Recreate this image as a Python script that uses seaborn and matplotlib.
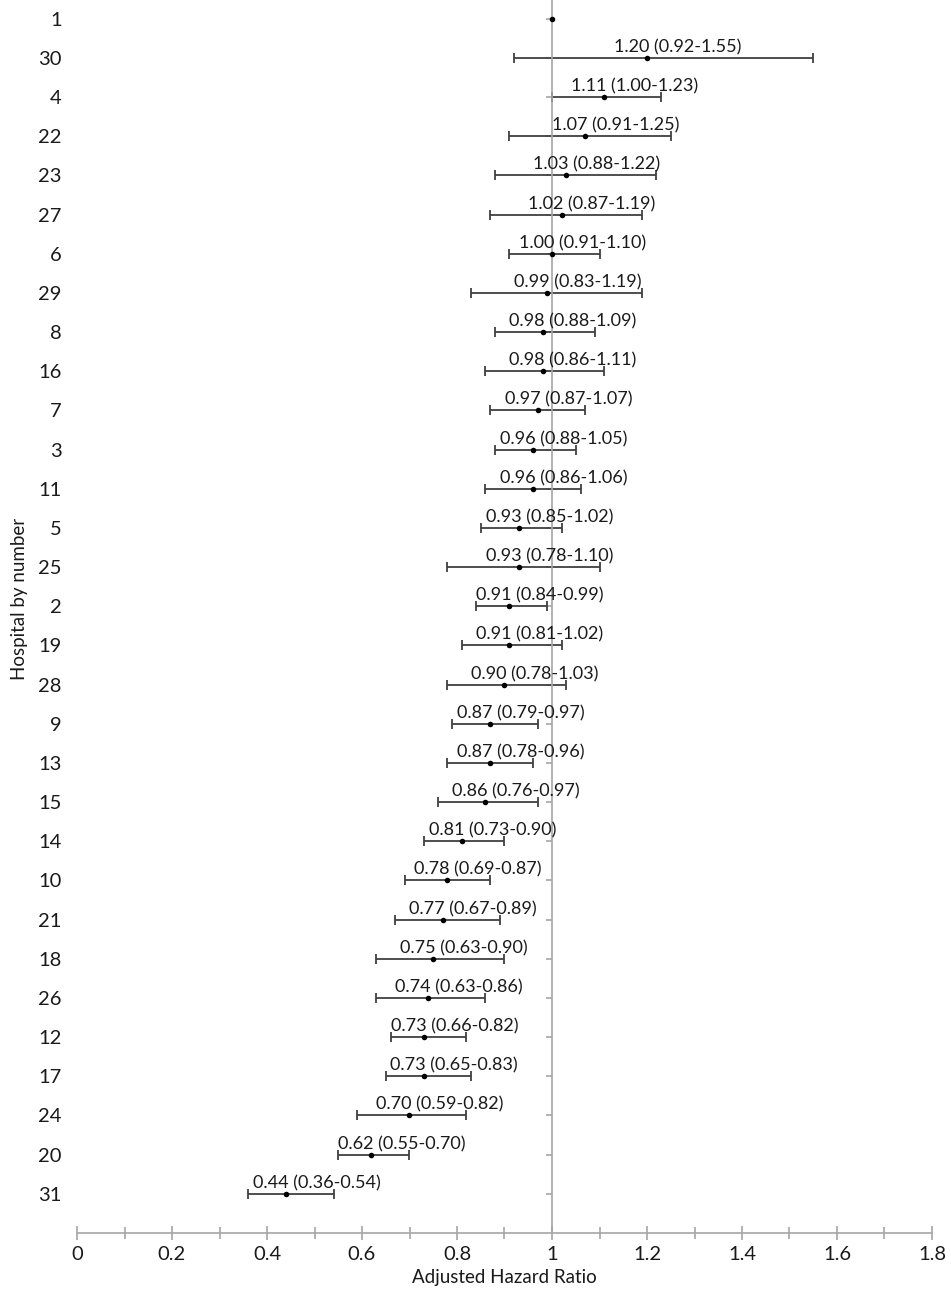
import numpy as np
import pandas as pd
import matplotlib
matplotlib.use("Agg")
import matplotlib.pyplot as plt
from matplotlib.ticker import MultipleLocator, FuncFormatter
import seaborn as sns

# Hospitals listed top to bottom, with adjusted hazard ratios and 95% CIs
hospitals = ["1", "30", "4", "22", "23", "27", "6", "29", "8", "16", "7", "3", "11",
             "5", "25", "2", "19", "28", "9", "13", "15", "14", "10", "21", "18",
             "26", "12", "17", "24", "20", "31"]
hr = [1.00, 1.20, 1.11, 1.07, 1.03, 1.02, 1.00, 0.99, 0.98, 0.98, 0.97, 0.96, 0.96,
      0.93, 0.93, 0.91, 0.91, 0.90, 0.87, 0.87, 0.86, 0.81, 0.78, 0.77, 0.75,
      0.74, 0.73, 0.73, 0.70, 0.62, 0.44]
ci_low = [np.nan, 0.92, 1.00, 0.91, 0.88, 0.87, 0.91, 0.83, 0.88, 0.86, 0.87, 0.88, 0.86,
          0.85, 0.78, 0.84, 0.81, 0.78, 0.79, 0.78, 0.76, 0.73, 0.69, 0.67, 0.63,
          0.63, 0.66, 0.65, 0.59, 0.55, 0.36]
ci_high = [np.nan, 1.55, 1.23, 1.25, 1.22, 1.19, 1.10, 1.19, 1.09, 1.11, 1.07, 1.05, 1.06,
           1.02, 1.10, 0.99, 1.02, 1.03, 0.97, 0.96, 0.97, 0.90, 0.87, 0.89, 0.90,
           0.86, 0.82, 0.83, 0.82, 0.70, 0.54]

n = len(hospitals)
df = pd.DataFrame({"hospital": hospitals, "hr": hr, "lo": ci_low, "hi": ci_high})
df["pos"] = n - np.arange(n)

sns.set_style("white")
plt.rcParams["font.family"] = ["Lato", "DejaVu Sans"]

W, H = 951, 1296
fig = plt.figure(figsize=(W / 100, H / 100), dpi=100)
left_px, right_px, bottom_px = 77, 932, 1233
ax = fig.add_axes([left_px / W, (H - bottom_px) / H, (right_px - left_px) / W, bottom_px / H])

text_col = "#1a1a1a"
axis_col = "#a6a6a6"
bar_col = "#404040"

# Confidence interval bars
ci = df.dropna(subset=["lo"])
ax.errorbar(ci["hr"], ci["pos"],
            xerr=[ci["hr"] - ci["lo"], ci["hi"] - ci["hr"]],
            fmt="none", ecolor=bar_col, elinewidth=1.3, capsize=3.6, capthick=1.3, zorder=2)

# Point estimates
sns.scatterplot(data=df, x="hr", y="pos", ax=ax, color="black", s=16,
                edgecolor="black", linewidth=0, zorder=3, legend=False)

# Value labels above each interval
for _, r in ci.iterrows():
    ax.annotate(f"{r.hr:.2f} ({r.lo:.2f}-{r.hi:.2f})", xy=(r.hr, r.pos),
                xytext=(22, 4), textcoords="offset points",
                ha="center", va="baseline", fontsize=13, color=text_col)

ax.set_xlim(0, 1.8)
ax.set_ylim(0, bottom_px / ((bottom_px - 18.7) / n))

# Vertical axis crosses at HR = 1
for s in ["top", "right"]:
    ax.spines[s].set_visible(False)
ax.spines["left"].set_position(("data", 1))
ax.spines["left"].set_color(axis_col)
ax.spines["left"].set_linewidth(1.2)
ax.spines["bottom"].set_color(axis_col)
ax.spines["bottom"].set_linewidth(1.2)

ax.set_yticks(df["pos"])
ax.tick_params(axis="y", which="both", left=True, length=4, width=1.2,
               color=axis_col, labelleft=False)

# Hospital labels on the far left
sec = ax.secondary_yaxis(0)
sec.set_yticks(df["pos"], labels=df["hospital"])
sec.spines["left"].set_visible(False)
sec.tick_params(axis="y", length=0, pad=11, labelsize=14.5, labelcolor=text_col)
fig.text(20 / W, 1 - 599 / H, "Hospital by number", rotation=90,
         ha="center", va="center", fontsize=13.5, color=text_col)

ax.xaxis.set_major_locator(MultipleLocator(0.2))
ax.xaxis.set_minor_locator(MultipleLocator(0.1))
ax.xaxis.set_major_formatter(FuncFormatter(lambda v, p: f"{v:g}"))
ax.tick_params(axis="x", which="major", direction="inout", length=10, width=1.2,
               color=axis_col, labelsize=14.5, labelcolor=text_col, pad=4, bottom=True)
ax.tick_params(axis="x", which="minor", direction="inout", length=9, width=1.2,
               color=axis_col, bottom=True)
ax.set_xlabel("Adjusted Hazard Ratio", fontsize=13.5, color=text_col, labelpad=5)
ax.set_ylabel("")

fig.savefig("out.png", dpi=100)
